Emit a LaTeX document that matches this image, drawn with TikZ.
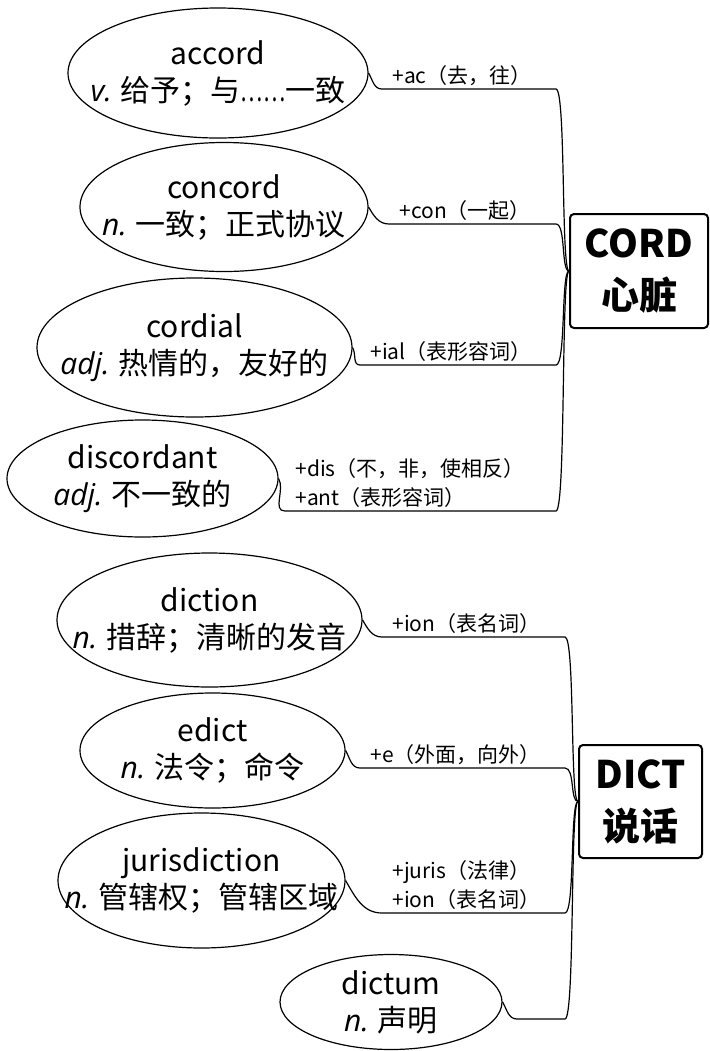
\documentclass[tikz,border=0pt]{standalone}
\usepackage{fontspec}
\setmainfont{Noto Sans CJK SC}
\newfontfamily\posfont{Open Sans}
\usetikzlibrary{shapes.geometric}
\newcommand{\pos}[1]{{\posfont\itshape #1}}
\newcommand{\zhdots}{{\addfontfeature{FakeStretch=0.7}……}}

\begin{document}
\begin{tikzpicture}[x=0.5pt,y=-0.5pt,
    word/.style={draw,ellipse,inner sep=0pt,line width=0.6pt,
      label={[gloss]center:#1}},
    gloss/.style={align=center,inner sep=0pt,font=\fontsize{15}{18.5}\selectfont},
    affix/.style={anchor=south west,inner xsep=5pt,inner ysep=1.5pt,align=left,
      font=\fontsize{10.5}{14.5}\selectfont},
    root/.style={draw,line width=1pt,rounded corners=2pt,align=center,inner sep=0pt,
      font=\fontsize{19}{26}\selectfont\bfseries},
    link/.style={line width=0.6pt}]
  \useasboundingbox (0,0) rectangle (709,1051);

  % CORD
  \node[root,minimum width=69pt,minimum height=57pt] (cord) at (639,271) {CORD\\心脏};
  \coordinate (cordbus) at (556,271);
  \node[word={accord\\\pos{v.} 给予；与\zhdots 一致},minimum width=150pt,minimum height=65pt]
    (accord) at (218,73) {};
  \node[word={concord\\\pos{n.} 一致；正式协议},minimum width=144pt,minimum height=64.5pt]
    (concord) at (224,207) {};
  \node[word={cordial\\\pos{adj.} 热情的，友好的},minimum width=157.5pt,minimum height=69.5pt]
    (cordial) at (194.5,347.5) {};
  \node[word={discordant\\\pos{adj.} 不一致的},minimum width=135.5pt,minimum height=58.5pt]
    (discordant) at (142.5,478.5) {};
  \node[affix] (accordA) at (382,89) {+ac（去，往）};
  \node[affix] (concordA) at (389,224) {+con（一起）};
  \node[affix] (cordialA) at (360,365) {+ial（表形容词）};
  \node[affix] (discordantA) at (285,511) {+dis（不，非，使相反）\\+ant（表形容词）};
  \foreach \w in {accord,concord,cordial,discordant}
    \draw[link] (\w.east) to[out=-60,in=180] (\w A.south west)
      -- (\w A.south west -| cordbus) .. controls +(10,0) and +(-8,0) .. (cord.west);

  % DICT
  \node[root,minimum width=61.5pt,minimum height=56.5pt] (dict) at (640.5,801.5) {DICT\\说话};
  \coordinate (dictbus) at (565,801);
  \node[word={diction\\\pos{n.} 措辞；清晰的发音},minimum width=152.5pt,minimum height=67pt]
    (diction) at (209.5,620) {};
  \node[word={edict\\\pos{n.} 法令；命令},minimum width=132.5pt,minimum height=57.5pt]
    (edict) at (212.5,750.5) {};
  \node[word={jurisdiction\\\pos{n.} 管辖权；管辖区域},minimum width=143.5pt,minimum height=67.5pt]
    (jurisdiction) at (201.5,880.5) {};
  \node[word={dictum\\\pos{n.} 声明},minimum width=111pt,minimum height=47.5pt]
    (dictum) at (391,1002) {};
  \node[affix] (dictionA) at (382,637) {+ion（表名词）};
  \node[affix] (edictA) at (360,768) {+e（外面，向外）};
  \node[affix] (jurisdictionA) at (382,913) {+juris（法律）\\+ion（表名词）};
  \coordinate (dictumA) at (517,1019);
  \foreach \w in {diction,edict,jurisdiction}
    \draw[link] (\w.east) to[out=-60,in=180] (\w A.south west)
      -- (\w A.south west -| dictbus) .. controls +(10,0) and +(-8,0) .. (dict.west);
  \draw[link] (dictum.east) to[out=-60,in=180] (dictumA)
    -- (dictumA -| dictbus) .. controls +(10,0) and +(-8,0) .. (dict.west);
\end{tikzpicture}
\end{document}
